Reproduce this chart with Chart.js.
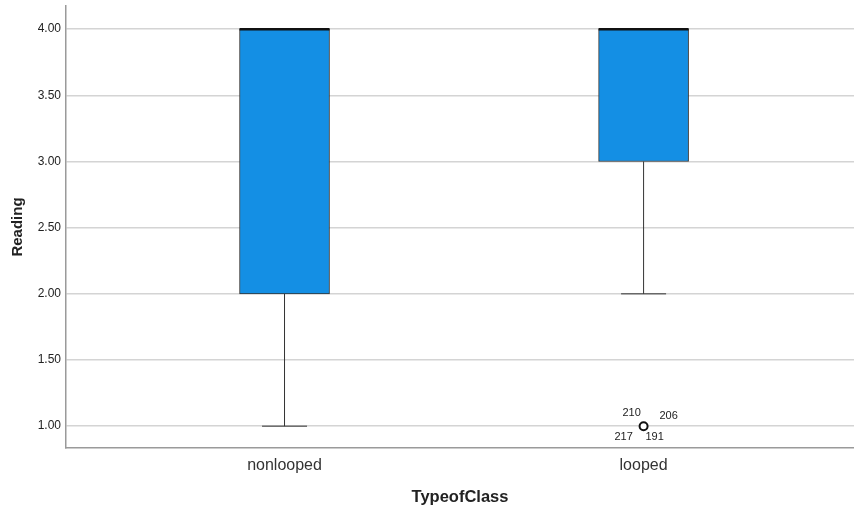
<!DOCTYPE html>
<html>
<head>
<meta charset="utf-8">
<script src="https://cdn.jsdelivr.net/npm/chart.js@4.4.0/dist/chart.umd.min.js"></script>
<style>
  html, body { margin: 0; padding: 0; background: #fff; overflow: hidden; }
  canvas { display: block; }
</style>
</head>
<body>
<canvas id="box" width="854" height="509"></canvas>
<script>
// boxplot summary per class
const categories = ['nonlooped', 'looped'];
const q1 = [2, 3];
const q3 = [4, 4];
const medians = [4, 4];
const whiskerLow = [1, 2];
const whiskerHigh = [4, 4];
const outlierValues = [[], [1]];
const outlierIds = [[], ['210', '206', '217', '191']];
const yTicks = [1, 1.5, 2, 2.5, 3, 3.5, 4];

const FONT = '"Liberation Sans", Arial, sans-serif';

// whiskers, medians, outlier case numbers
const boxExtras = {
  id: 'boxExtras',
  afterDatasetsDraw(chart) {
    const ctx = chart.ctx;
    const x = chart.scales.x, y = chart.scales.y;
    ctx.save();
    categories.forEach((c, i) => {
      const cx = x.getPixelForValue(i);
      ctx.strokeStyle = '#333';
      ctx.lineWidth = 1;
      [[q1[i], whiskerLow[i]], [q3[i], whiskerHigh[i]]].forEach(([from, to]) => {
        if (from === to) return;
        ctx.beginPath();
        ctx.moveTo(cx, y.getPixelForValue(from));
        ctx.lineTo(cx, y.getPixelForValue(to));
        ctx.moveTo(cx - 22.5, y.getPixelForValue(to));
        ctx.lineTo(cx + 22.5, y.getPixelForValue(to));
        ctx.stroke();
      });
      ctx.strokeStyle = '#111';
      ctx.lineWidth = 2.5;
      ctx.beginPath();
      ctx.moveTo(cx - 45, y.getPixelForValue(medians[i]));
      ctx.lineTo(cx + 45, y.getPixelForValue(medians[i]));
      ctx.stroke();

      ctx.fillStyle = '#222';
      ctx.font = '11px ' + FONT;
      ctx.textAlign = 'center';
      ctx.textBaseline = 'middle';
      const offs = [[-12, -13], [25, -10], [-20, 11], [11, 11]];
      outlierValues[i].forEach(v => {
        const py = y.getPixelForValue(v);
        outlierIds[i].forEach((id, k) => {
          ctx.fillText(id, cx + offs[k][0], py + offs[k][1]);
        });
      });
    });
    ctx.restore();
  }
};

const noPad = s => {
  s.paddingTop = 0; s.paddingBottom = 0; s.paddingLeft = 0; s.paddingRight = 0;
};

new Chart(document.getElementById('box'), {
  type: 'bar',
  data: {
    datasets: [
      {
        type: 'line',
        showLine: false,
        data: outlierValues.flatMap((vals, i) => vals.map(v => ({x: i, y: v}))),
        pointRadius: 4,
        pointBorderWidth: 2,
        pointBorderColor: '#111',
        pointBackgroundColor: '#fff',
        order: 0,
      },
      {
        data: categories.map((c, i) => ({x: i, y: [q1[i], q3[i]]})),
        backgroundColor: '#148fe4',
        borderColor: '#333',
        borderWidth: 1,
        borderSkipped: false,
        barThickness: 90,
        order: 1,
      },
    ],
  },
  options: {
    responsive: false,
    animation: false,
    layout: {autoPadding: false, padding: {top: 6, right: 0, left: 0, bottom: 0}},
    plugins: {legend: {display: false}, tooltip: {enabled: false}},
    scales: {
      x: {
        type: 'linear',
        offset: false,
        min: -0.6086,
        max: 1.586,
        afterBuildTicks: s => { s.ticks = categories.map((c, i) => ({value: i})); },
        afterFit: s => { s.height = 61; noPad(s); },
        grid: {display: false, drawTicks: false, offset: false},
        border: {display: true, color: '#9a9a9a', width: 1.5},
        ticks: {
          callback: v => categories[v],
          color: '#333',
          font: {family: FONT, size: 16},
          padding: 8,
          autoSkip: false,
          maxRotation: 0,
        },
        title: {
          display: true,
          text: 'TypeofClass',
          color: '#222',
          font: {family: FONT, size: 16.5, weight: 'bold'},
          padding: {top: 0, bottom: 2},
        },
      },
      y: {
        min: 0.835,
        max: 4.175,
        afterBuildTicks: s => { s.ticks = yTicks.map(v => ({value: v})); },
        afterFit: s => { s.width = 66; noPad(s); },
        grid: {color: '#d4d4d4', lineWidth: 1.5, drawTicks: false},
        border: {display: true, color: '#9a9a9a', width: 1.5},
        ticks: {
          callback: v => v.toFixed(2),
          color: '#222',
          font: {family: FONT, size: 12},
          padding: 5,
        },
        title: {
          display: true,
          text: 'Reading',
          color: '#222',
          font: {family: FONT, size: 15, weight: 'bold'},
          padding: {top: 8.5, bottom: 0},
        },
      },
    },
  },
  plugins: [boxExtras],
});
</script>
</body>
</html>
